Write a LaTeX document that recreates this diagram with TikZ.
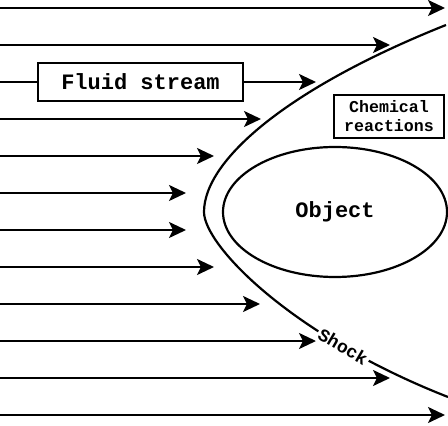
\documentclass[tikz,border=0pt]{standalone}
\usepackage{fontspec}
\setmainfont{Liberation Mono}
\usetikzlibrary{arrows.meta,shapes.geometric}

\tikzset{
  flow/.style={line width=1.1pt, -{Stealth[length=8.5pt,width=8pt,inset=2pt]}},
  plain/.style={line width=1.1pt},
  labelbox/.style={draw, line width=1.1pt, inner sep=0pt, font=\bfseries\fontsize{11}{13}\selectfont},
  smallbox/.style={draw, line width=1.1pt, inner sep=0pt, align=center, font=\bfseries\fontsize{8.3}{9.5}\selectfont},
}

\begin{document}
\begin{tikzpicture}[x=0.5pt,y=0.5pt]
\useasboundingbox (0,0) rectangle (448,-426);
% labelled parts
\node[labelbox, minimum width=102.5pt, minimum height=19pt] (fluid) at (140.5,-82) {Fluid stream};
\node[smallbox, minimum width=55pt, minimum height=21.5pt] (chem) at (389,-116.5) {Chemical\\reactions};
\node[labelbox, ellipse, minimum width=112pt, minimum height=65pt] (object) at (335,-212) {Object};
% stream lines: start and tip of each
\coordinate (a1) at (0,-8);   \coordinate (b1) at (445,-8);
\coordinate (a2) at (0,-45);  \coordinate (b2) at (390,-45);
\coordinate (a3) at (0,-82);  \coordinate (b3) at (316,-82);
\coordinate (a4) at (0,-119); \coordinate (b4) at (261,-119);
\coordinate (a5) at (0,-156); \coordinate (b5) at (214,-156);
\coordinate (a6) at (0,-193); \coordinate (b6) at (186,-193);
\coordinate (a7) at (0,-230); \coordinate (b7) at (186,-230);
\coordinate (a8) at (0,-267); \coordinate (b8) at (214,-267);
\coordinate (a9) at (0,-304); \coordinate (b9) at (260,-304);
\coordinate (a10) at (0,-341); \coordinate (b10) at (316,-341);
\coordinate (a11) at (0,-378); \coordinate (b11) at (390,-378);
\coordinate (a12) at (0,-415); \coordinate (b12) at (445,-415);
\draw[flow] (a1) -- (b1);
\draw[flow] (a2) -- (b2);
\draw[plain] (a3) -- (fluid);
\draw[flow] (fluid) -- (b3);
\draw[flow] (a4) -- (b4);
\draw[flow] (a5) -- (b5);
\draw[flow] (a6) -- (b6);
\draw[flow] (a7) -- (b7);
\draw[flow] (a8) -- (b8);
\draw[flow] (a9) -- (b9);
\draw[flow] (a10) -- (b10);
\draw[flow] (a11) -- (b11);
\draw[flow] (a12) -- (b12);
% shock front
\coordinate (top) at (446,-25);
\coordinate (nose) at (204,-212);
\coordinate (bottom) at (448,-397);
\draw[plain] (top) .. controls (288,-88) and (204,-160) .. (nose)
  .. controls (204,-245) and (290,-335) .. node[pos=0.75, sloped, fill=white, inner sep=1pt, font=\bfseries\fontsize{9}{11}\selectfont] (shock) {Shock} (bottom);
\end{tikzpicture}
\end{document}
